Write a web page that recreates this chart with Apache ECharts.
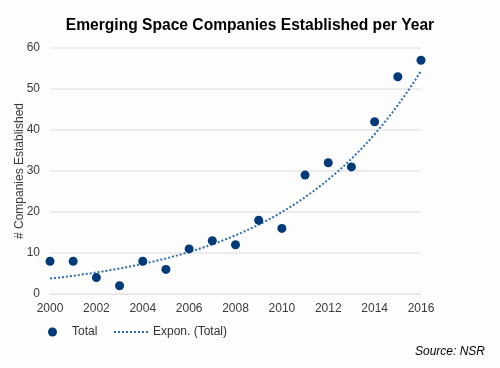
<!DOCTYPE html>
<html><head><meta charset="utf-8">
<script src="https://cdn.jsdelivr.net/npm/echarts@6/dist/echarts.min.js"></script>
<style>html,body{margin:0;padding:0;background:#fdfdfd}#c{width:500px;height:368px}</style>
</head><body><div id="c"></div>
<script>
const years = [2000,2001,2002,2003,2004,2005,2006,2007,2008,2009,2010,2011,2012,2013,2014,2015,2016];
const totals = [8,8,4,2,8,6,11,13,12,18,16,29,32,31,42,53,57];
const xTicks = [2000,2016,2];
const yTicks = [0,60,10];

// exponential least-squares fit of totals (like a spreadsheet trendline)
const n = years.length;
const xs = years.map(y => y - years[0]);
const ls = totals.map(v => Math.log(v));
const mx = xs.reduce((a,b)=>a+b,0)/n, ml = ls.reduce((a,b)=>a+b,0)/n;
let sxy=0, sxx=0;
for (let i=0;i<n;i++){ sxy += (xs[i]-mx)*(ls[i]-ml); sxx += (xs[i]-mx)*(xs[i]-mx); }
const b = sxy/sxx, la = ml - b*mx;
const trend = [];
for (let t = 0; t <= 16.0001; t += 0.25) trend.push([years[0]+t, Math.exp(la + b*t)]);

const chart = echarts.init(document.getElementById('c'));
chart.setOption({
  backgroundColor: '#fdfdfd',
  animation: false,
  title: { text: 'Emerging Space Companies Established per Year', left: 'center', top: 13,
    textStyle: { fontFamily: 'Liberation Sans', fontWeight: 'bold', fontSize: 15.6, color: '#000' } },
  legend: [
    { data: ['Total'], left: 43, top: 321, itemWidth: 9, itemHeight: 9, icon: 'circle', itemGap: 0,
      textStyle: { fontFamily: 'Liberation Sans', fontSize: 12, color: '#333', padding:[0,0,0,10] } },
    { data: ['Expon. (Total)'], left: 108, top: 321, itemWidth: 34, itemHeight: 9,
      itemStyle: { opacity: 0 },
      lineStyle: { color: '#2e6db0', width: 2, type: [2,2], opacity: 1 },
      textStyle: { fontFamily: 'Liberation Sans', fontSize: 12, color: '#333' } }
  ],
  graphic: [{ type: 'text', right: 15, top: 346,
    style: { text: 'Source: NSR', font: 'italic 12px "Liberation Sans"', fill: '#000' } }],
  grid: { left: 50, right: 79, top: 48, bottom: 74 },
  xAxis: { type: 'value', min: xTicks[0], max: xTicks[1], interval: xTicks[2],
    axisLine: { show: true, lineStyle: { color: '#e3e3e3' } }, axisTick: { show: false },
    splitLine: { show: false },
    axisLabel: { formatter: v => String(v), color: '#3a3a3a', fontFamily: 'Liberation Sans', fontSize: 12, margin: 9 } },
  yAxis: { type: 'value', min: yTicks[0], max: yTicks[1], interval: yTicks[2],
    name: '# Companies Established', nameLocation: 'middle', nameGap: 24, nameRotate: 90,
    nameMoveOverlap: false,
    nameTextStyle: { fontFamily: 'Liberation Sans', fontSize: 12, color: '#3a3a3a' },
    axisLine: { show: false }, axisTick: { show: false },
    splitLine: { lineStyle: { color: '#e6e6e6', width: 1.5 } },
    axisLabel: { color: '#3a3a3a', fontFamily: 'Liberation Sans', fontSize: 12, margin: 10 } },
  series: [
    { name: 'Expon. (Total)', type: 'line', data: trend, showSymbol: false, symbol: 'none', smooth: false,
      lineStyle: { color: '#2e6db0', width: 2, type: [2,2] }, itemStyle: { color: '#2e6db0' }, z: 1 },
    { name: 'Total', type: 'scatter', data: years.map((y,i)=>[y, totals[i]]), symbolSize: 9,
      itemStyle: { color: '#003a78', opacity: 1 }, z: 2 }
  ]
});
</script></body></html>
